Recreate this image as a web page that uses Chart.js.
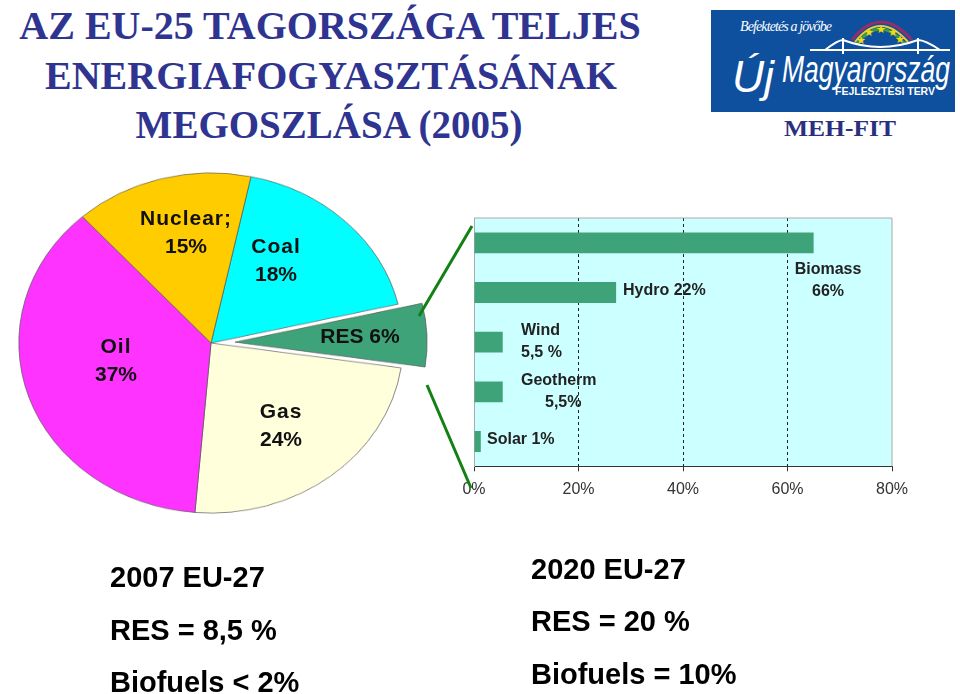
<!DOCTYPE html>
<html lang="hu"><head><meta charset="utf-8">
<script src="https://cdn.jsdelivr.net/npm/chart.js@4"></script>
<style>
html,body{margin:0;padding:0;background:#fff;width:960px;height:694px;overflow:hidden}
body{position:relative;font-family:"Liberation Sans",Arial,sans-serif}
.abs{position:absolute;white-space:nowrap}
.title{font-family:"Liberation Serif",serif;font-weight:bold;font-size:40px;color:#2f3491;left:0;width:660px;text-align:center;line-height:50px}
.lab{font-weight:bold;color:#111;text-align:center;transform:translate(-50%,-50%);line-height:27.5px;font-size:21px}
.lab b{letter-spacing:1px}
.blab{color:#222;font-size:16px;font-weight:bold;line-height:22px}
.foot{font-weight:bold;font-size:29px;color:#000;line-height:31px}
#pie{position:absolute;left:-39px;top:93px;width:500px;height:500px;transform:scaleY(.885);transform-origin:50% 50%}
#bar{position:absolute;left:440px;top:200px;width:500px;height:310px}
svg{position:absolute;overflow:visible}
</style></head><body>
<div class="abs title" style="top:1px;left:0">AZ EU-25 TAGORSZÁGA TELJES</div>
<div class="abs title" style="top:51px;left:1px">ENERGIAFOGYASZTÁSÁNAK</div>
<div class="abs title" style="top:100px;left:-1px;font-size:39px">MEGOSZLÁSA (2005)</div>

<svg style="left:0;top:0" width="960" height="694">
 <rect x="711" y="10" width="244" height="102" fill="#0e4f9e"/>
 <path d="M852 40 Q880 4 912 40" fill="none" stroke="#8f2f6b" stroke-width="3"/>
 <path d="M855 42 Q880 10 908 42" fill="none" stroke="#e8c93a" stroke-width="2"/>
 <path d="M857 44 Q880 14 905 44" fill="none" stroke="#3f9a45" stroke-width="3"/>
 <path d="M810 50 H950 M825 50 Q838 40 843 40 Q880 54 918 40 Q925 40 940 50 M843 38 V54 M918 38 V54" fill="none" stroke="#fff" stroke-width="2"/>
 <g fill="#f5d90f" font-size="11" font-family="DejaVu Sans" text-anchor="middle">
  <text x="861" y="44">★</text><text x="869" y="36">★</text><text x="881" y="33">★</text><text x="893" y="36">★</text><text x="900" y="43">★</text>
 </g>
 <text x="740" y="31" fill="#fff" font-family="Liberation Serif" font-style="italic" font-size="14" textLength="92">Befektetés a jövőbe</text>
 <text x="732" y="92" fill="#fff" font-family="Liberation Sans" font-style="italic" font-size="44" textLength="42" lengthAdjust="spacingAndGlyphs">Új</text>
 <text x="782" y="82" fill="#fff" font-family="Liberation Sans" font-style="italic" font-size="36" textLength="168" lengthAdjust="spacingAndGlyphs">Magyarország</text>
 <text x="835" y="95" fill="#fff" font-family="Liberation Sans" font-weight="bold" font-size="11" textLength="100" lengthAdjust="spacingAndGlyphs">FEJLESZTÉSI TERV</text>
 <text x="840" y="136" fill="#2b2f7f" font-family="Liberation Serif" font-weight="bold" font-size="24" text-anchor="middle" textLength="112" lengthAdjust="spacingAndGlyphs">MEH-FIT</text>
</svg>

<canvas id="pie" width="500" height="500"></canvas>
<canvas id="bar" width="500" height="310"></canvas>

<div class="abs lab" style="left:186px;top:231px"><b>Nuclear;</b><br>15%</div>
<div class="abs lab" style="left:276px;top:259px"><b>Coal</b><br>18%</div>
<div class="abs lab" style="left:360px;top:336px">RES 6%</div>
<div class="abs lab" style="left:116px;top:359px"><b>Oil</b><br>37%</div>
<div class="abs lab" style="left:281px;top:424px"><b>Gas</b><br>24%</div>

<div class="abs blab" style="left:623px;top:279px">Hydro 22%</div>
<div class="abs blab" style="left:794px;top:258px;width:68px;text-align:center">Biomass<br>66%</div>
<div class="abs blab" style="left:521px;top:319px">Wind<br>5,5 %</div>
<div class="abs blab" style="left:521px;top:369px">Geotherm<br><span style="margin-left:24px">5,5%</span></div>
<div class="abs blab" style="left:487px;top:428px">Solar 1%</div>

<svg style="left:0;top:0;pointer-events:none" width="960" height="694">
 <line x1="472" y1="226" x2="419" y2="316" stroke="#128012" stroke-width="3"/>
 <line x1="427" y1="385" x2="471" y2="488" stroke="#128012" stroke-width="3"/>
</svg>

<div class="abs foot" style="left:110px;top:562px">2007 EU-27</div>
<div class="abs foot" style="left:110px;top:615px">RES = 8,5 %</div>
<div class="abs foot" style="left:110px;top:667px">Biofuels &lt; 2%</div>
<div class="abs foot" style="left:531px;top:554px">2020 EU-27</div>
<div class="abs foot" style="left:531px;top:606px">RES = 20 %</div>
<div class="abs foot" style="left:531px;top:659px">Biofuels = 10%</div>

<script>
const shareLabels = ["Coal","RES","Gas","Oil","Nuclear"];
const shareValues = [18,6,24,37,15];
const shareColors = ["#00ffff","#3fa37a","#ffffdc","#ff33ff","#ffcc00"];
const resLabels = ["Biomass","Hydro","Wind","Geotherm","Solar"];
const resBarValues = [65,27.2,5.5,5.5,1.3];
const xTicks = [0,20,40,60,80];
const dashedAt = [20,40,60];
const explodedSlice = "RES";
const explodeBy = 24;

const explode={id:"explode",afterDatasetsUpdate(c){
  const arc=c.getDatasetMeta(0).data[shareLabels.indexOf(explodedSlice)];
  const mid=(arc.startAngle+arc.endAngle)/2;
  arc.x+=Math.cos(mid)*explodeBy; arc.y+=Math.sin(mid)*explodeBy;
}};

new Chart(document.getElementById("pie"),{
  type:"pie",
  data:{labels:shareLabels,datasets:[{data:shareValues,backgroundColor:shareColors,borderColor:"#555",borderWidth:.7}]},
  options:{responsive:false,animation:false,rotation:12,devicePixelRatio:1,
    layout:{padding:57.5},plugins:{legend:{display:false},tooltip:{enabled:false}}},
  plugins:[explode]
});

const plotBg={id:"plotBg",
  beforeDraw(c){const a=c.chartArea,x=c.ctx;x.save();x.fillStyle="#ccffff";x.fillRect(a.left,a.top,a.width,a.height);x.restore();},
  afterDraw(c){const a=c.chartArea,x=c.ctx;x.save();x.strokeStyle="#aaa";x.lineWidth=1;x.beginPath();x.moveTo(a.left,a.top);x.lineTo(a.right,a.top);x.lineTo(a.right,a.bottom);x.stroke();x.restore();}};

new Chart(document.getElementById("bar"),{
  type:"bar",
  data:{labels:resLabels,datasets:[{data:resBarValues,backgroundColor:"#3fa37a",barPercentage:.42,categoryPercentage:1}]},
  options:{indexAxis:"y",responsive:false,animation:false,devicePixelRatio:1,
    layout:{padding:{left:34,top:18,right:48,bottom:1.5}},
    plugins:{legend:{display:false},tooltip:{enabled:false}},
    scales:{
      x:{min:0,max:80,afterBuildTicks(s){s.ticks=xTicks.map(v=>({value:v}));},
        ticks:{callback:v=>v+"%",color:"#333",font:{family:"Liberation Sans",size:16},padding:9,maxRotation:0},
        grid:{color:c=>dashedAt.includes(c.tick&&c.tick.value)?"#222":"transparent",tickColor:"#333",tickLength:5,lineWidth:1},
        border:{color:"#333",dash:[3,3],display:true}},
      y:{ticks:{display:false},grid:{display:false,drawTicks:false},border:{color:"#aaa"}}
    }},
  plugins:[plotBg]
});
</script>
</body></html>
